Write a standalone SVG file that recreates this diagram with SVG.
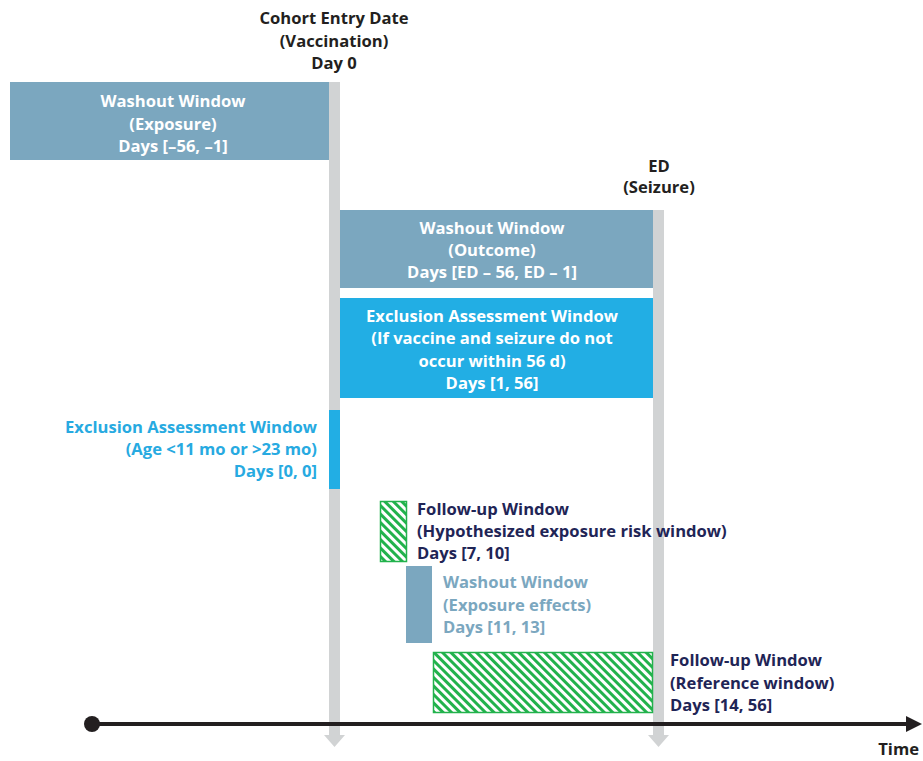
<svg xmlns="http://www.w3.org/2000/svg" width="923" height="761" viewBox="0 0 923 761">
<style>
text{font-family:"Open Sans","Liberation Sans",sans-serif;font-weight:700;font-size:16.6px}
.w{fill:#ffffff}
.k{fill:#231f20}
.b{fill:#27aae1}
.n{fill:#1f2556}
.s{fill:#7ba7bf}
.m{text-anchor:middle}
.e{text-anchor:end}
.gbar{fill:#d1d3d4}
</style>
<defs>
<pattern id="hatch" patternUnits="userSpaceOnUse" width="6" height="6" patternTransform="rotate(-45)">
<rect x="0" y="0" width="3" height="6" fill="#22b24c"/>
</pattern>
</defs>
<g id="connectors">
<rect class="gbar" x="329" y="82" width="11" height="653"/>
<polygon class="gbar" points="324,735 345,735 334.5,747"/>
<rect class="gbar" x="653" y="210" width="11" height="525"/>
<polygon class="gbar" points="648,735 669,735 658.5,747"/>
<line x1="92" y1="724" x2="908" y2="724" stroke="#231f20" stroke-width="4"/>
<polygon points="906,716 922,724 906,732" fill="#231f20"/>
<circle cx="92" cy="724" r="8" fill="#231f20"/>
</g>
<g id="cohort-entry">
<text class="k m" x="334" y="24">Cohort Entry Date</text>
<text class="k m" x="334" y="47">(Vaccination)</text>
<text class="k m" x="334" y="69">Day 0</text>
</g>
<g id="ed-seizure">
<text class="k m" x="659" y="172">ED</text>
<text class="k m" x="659" y="193">(Seizure)</text>
</g>
<g id="washout-exposure">
<rect x="10" y="82" width="319" height="78" fill="#7ba7bf"/>
<text class="w m" x="173" y="107">Washout Window</text>
<text class="w m" x="173" y="130">(Exposure)</text>
<text class="w m" x="173" y="152">Days [–56, –1]</text>
</g>
<g id="washout-outcome">
<rect x="340" y="210" width="313" height="78" fill="#7ba7bf"/>
<text class="w m" x="492" y="234">Washout Window</text>
<text class="w m" x="492" y="256">(Outcome)</text>
<text class="w m" x="492" y="278">Days [ED – 56, ED – 1]</text>
</g>
<g id="exclusion-56">
<rect x="340" y="298" width="313" height="100" fill="#22aee4"/>
<text class="w m" x="492" y="322">Exclusion Assessment Window</text>
<text class="w m" x="492" y="344">(If vaccine and seizure do not</text>
<text class="w m" x="492" y="367">occur within 56 d)</text>
<text class="w m" x="492" y="389">Days [1, 56]</text>
</g>
<g id="exclusion-age">
<rect x="329" y="410" width="11" height="79" fill="#22aee4"/>
<text class="b e" x="317" y="433">Exclusion Assessment Window</text>
<text class="b e" x="317" y="455">(Age &lt;11 mo or &gt;23 mo)</text>
<text class="b e" x="317" y="477">Days [0, 0]</text>
</g>
<g id="followup-risk">
<rect x="380.5" y="501.5" width="26" height="60" fill="url(#hatch)" stroke="#22b24c" stroke-width="1.5"/>
<text class="n" x="417" y="515">Follow-up Window</text>
<text class="n" x="417" y="537">(Hypothesized exposure risk window)</text>
<text class="n" x="417" y="559">Days [7, 10]</text>
</g>
<g id="washout-effects">
<rect x="406" y="566" width="26" height="77" fill="#7ba7bf"/>
<text class="s" x="443" y="588">Washout Window</text>
<text class="s" x="443" y="611">(Exposure effects)</text>
<text class="s" x="443" y="633">Days [11, 13]</text>
</g>
<g id="followup-reference">
<rect x="433.5" y="652.5" width="219" height="60" fill="url(#hatch)" stroke="#22b24c" stroke-width="1.5"/>
<text class="n" x="670" y="666">Follow-up Window</text>
<text class="n" x="670" y="689">(Reference window)</text>
<text class="n" x="670" y="711">Days [14, 56]</text>
</g>
<g id="time-label">
<text class="k e" x="919" y="755">Time</text>
</g>
</svg>
